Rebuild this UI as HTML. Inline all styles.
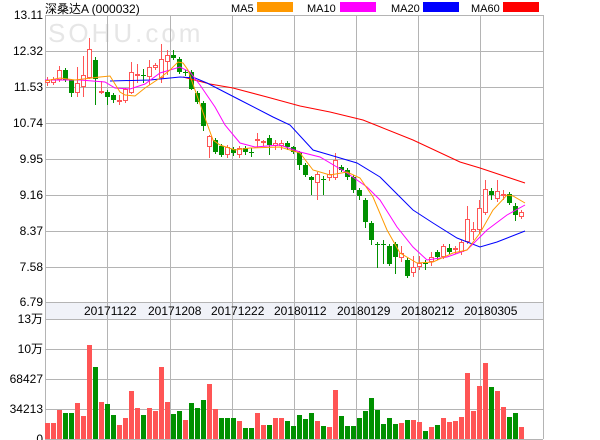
<!DOCTYPE html>
<html><head><meta charset="utf-8"><style>
body{margin:0;background:#fff;width:600px;height:440px;overflow:hidden}
svg{display:block;font-family:"Liberation Sans","Noto Sans CJK SC",sans-serif}
</style></head><body>
<svg id="s" width="600" height="440" xmlns="http://www.w3.org/2000/svg">
<rect width="600" height="440" fill="#fff"/>
<text x="48" y="42" font-size="26" fill="#e6e6e6" letter-spacing="3">SOHU.com</text>
<rect x="45" y="302" width="498" height="17" fill="#f0f2f8"/>
<g id="grid" stroke="#b4b4b4" stroke-width="1" fill="none"></g>
<text x="45" y="13" font-size="12" fill="#000">深桑达A (000032)</text>
<text x="231" y="12" font-size="11" fill="#000">MA5</text><rect x="257" y="2" width="36" height="10" fill="#ff9900"/>
<text x="307" y="12" font-size="11" fill="#000">MA10</text><rect x="340" y="2" width="36" height="10" fill="#ff00ff"/>
<text x="391" y="12" font-size="11" fill="#000">MA20</text><rect x="423" y="2" width="36" height="10" fill="#0000ff"/>
<text x="471" y="12" font-size="11" fill="#000">MA60</text><rect x="503" y="2" width="36" height="10" fill="#ff0000"/>
<g id="lab" font-size="12" fill="#000" text-anchor="end"></g>
<g id="dates" font-size="12" fill="#000"></g>
<g id="c"></g>
</svg>
<script>
const NS="http://www.w3.org/2000/svg";
function el(p,t,a,txt){const e=document.createElementNS(NS,t);for(const k in a)e.setAttribute(k,a[k]);if(txt!==undefined)e.textContent=txt;document.getElementById(p).appendChild(e);return e;}
const xs=[45,107,170,232,294,356,418,480,543];
xs.forEach(x=>el('grid','line',{x1:x+.5,y1:15,x2:x+.5,y2:439}));
const py=[15,51,87,123,159,195,231,267,302];
py.forEach(y=>el('grid','line',{x1:45,y1:y+.5,x2:543,y2:y+.5}));
[319,349,379,409,439].forEach(y=>el('grid','line',{x1:45,y1:y+.5,x2:543,y2:y+.5}));
const pl=["13.11","12.32","11.53","10.74","9.95","9.16","8.37","7.58","6.79"];
pl.forEach((t,i)=>el('lab','text',{x:43,y:py[i]+4},t));
[["13万",319],["10万",349],["68427",379],["34213",409],["0",439]].forEach(a=>el('lab','text',{x:43,y:a[1]+4},a[0]));
[["20171122",84],["20171208",148],["20171222",211],["20180112",274],["20180129",337],["20180212",401],["20180305",464]].forEach(a=>el('dates','text',{x:a[1],y:315},a[0]));
const C=[[83,80,77,86],[83,79,77,85],[80,70,66,82],[70,80,68,82],[80,93,79,97],[93,83,67,97],[87,75,56,97],[78,49,38,79],[60,79,57,105],[93,91,81,94],[92,97,90,105],[95,100,93,103],[101,100,95,105],[101,89,88,103],[93,72,62,94],[76,74,64,83],[75,75,69,83],[77,67,60,85],[68,65,63,70],[78,59,44,83],[62,55,50,75],[55,58,50,60],[59,72,57,74],[72,72,70,76],[72,89,70,90],[93,102,91,104],[103,126,101,131],[147,136,135,158],[140,152,138,154],[146,155,144,157],[155,147,145,158],[149,153,147,156],[155,148,146,158],[148,152,146,155],[152,152,148,157],[141,139,133,148],[142,141,140,146],[138,145,135,155],[146,143,140,150],[146,143,140,150],[143,147,141,150],[147,152,146,154],[152,165,151,170],[165,175,163,177],[177,180,176,195],[183,174,172,200],[179,179,176,195],[178,174,170,181],[178,160,153,180],[167,170,165,172],[170,177,168,180],[177,190,175,193],[190,196,188,200],[200,222,198,228],[223,240,221,245],[244,244,242,268],[244,244,240,264],[246,264,244,266],[244,257,242,274],[258,253,246,262],[260,276,258,278],[273,267,256,277],[267,263,256,270],[263,263,260,270],[262,257,252,266],[252,257,250,260],[257,246,244,259],[248,252,244,254],[250,248,246,254],[252,242,240,255],[242,219,206,244],[232,229,222,240],[230,208,200,234],[213,189,180,215],[191,195,188,200],[199,191,180,202],[195,194,190,200],[194,203,192,205],[206,215,203,221],[217,212,210,219]];
C.forEach((k,i)=>{const x=45+6*i;const [o,c,h,l]=k;
 if(c<o){el('c','line',{x1:x+2.5,y1:h,x2:x+2.5,y2:c,stroke:'#ff5555'});el('c','line',{x1:x+2.5,y1:o,x2:x+2.5,y2:l,stroke:'#ff5555'});
  el('c','rect',{x:x+.5,y:c+.5,width:4,height:Math.max(o-c-1,1),fill:'#fff',stroke:'#ff5555'});}
 else{el('c','line',{x1:x+2.5,y1:h,x2:x+2.5,y2:l,stroke:'#009000'});el('c','rect',{x:x,y:o,width:5,height:Math.max(c-o,1),fill:'#009000'});}
});
const V=[423,423,410,413,413,403,416,345,367,402,404,415,425,418,391,408,415,408,411,367,402,414,411,420,403,408,400,384,409,418,418,418,421,428,428,413,425,425,418,418,421,426,415,419,413,421,426,427,390,416,426,426,418,411,398,410,424,418,424,423,420,420,422,431,427,425,418,422,421,417,373,411,386,363,387,391,407,417,413,427];
const VC2="rrrggrrrgrggrrrrgrrrrggrgggrrgggrggrrgrrgggggrgrrggggggggggrgrrgrgrrrrrrrrgrrggr";
V.forEach((t,i)=>{const g=VC2[i]==='g';el('c','rect',{x:45+6*i,y:t,width:5,height:439-t,fill:g?'#009000':'#ff5555'});});
function line(pts,col){el('c','polyline',{points:pts.map(p=>p.join(',')).join(' '),fill:'none',stroke:col,'stroke-width':1});}
line([[183,77],[210,84],[233,88],[267,97],[300,106],[330,112],[363,120],[413,140],[460,162],[480,168],[525,183]],'#ff0000');
line([[110,81],[150,80],[180,77],[195,78],[207,83],[240,100],[273,117],[290,125],[313,150],[330,155],[357,163],[380,177],[413,210],[433,223],[457,238],[480,247],[497,242],[525,231]],'#0000ff');
line([[45,80],[80,80],[105,82],[115,88],[130,89],[145,84],[160,73],[180,67],[190,72],[200,85],[215,107],[225,125],[240,143],[255,147],[280,145],[300,152],[320,157],[347,173],[367,187],[380,200],[397,227],[413,247],[427,260],[447,257],[467,250],[487,230],[507,215],[525,205]],'#ff00ff');
line([[45,81],[60,78],[75,80],[100,77],[110,76],[120,92],[125,95],[135,96],[145,88],[160,78],[170,70],[178,62],[183,63],[188,70],[195,90],[205,118],[213,140],[220,145],[235,150],[250,148],[280,147],[300,153],[313,170],[330,175],[347,172],[360,178],[373,197],[387,230],[400,253],[417,263],[433,262],[453,253],[467,250],[480,233],[493,210],[507,195],[513,196],[525,203]],'#ff9900');
</script>
</body></html>
